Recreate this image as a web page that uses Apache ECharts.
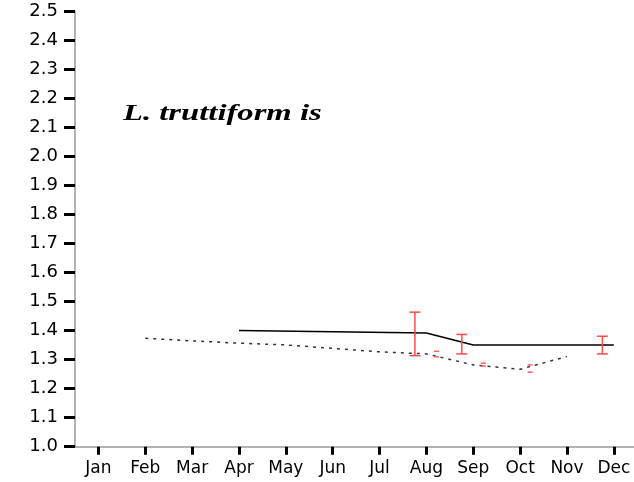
<!DOCTYPE html>
<html>
<head>
<meta charset="utf-8">
<script src="https://cdn.jsdelivr.net/npm/echarts@6/dist/echarts.min.js"></script>
<style>
html,body{margin:0;padding:0;background:#fff;}
#chart{width:634px;height:482px;}
</style>
</head>
<body>
<div id="chart"></div>
<script>
// ---- data ----
var monthLabels = ['Jan','Feb','Mar','Apr','May','Jun','Jul','Aug','Sep','Oct','Nov','Dec'];
var yTicks = [1.0,1.1,1.2,1.3,1.4,1.5,1.6,1.7,1.8,1.9,2.0,2.1,2.2,2.3,2.4,2.5];
var titleText = 'L. truttiform is';

// solid series (month index 1..12)
var solidMonths = [4, 8, 9, 12];
var solidValues = [1.401, 1.392, 1.351, 1.351];
var solidErrMonths = [8, 9, 12];
var solidErrLow = [1.314, 1.320, 1.320];
var solidErrHigh = [1.464, 1.387, 1.381];

// dotted series
var dottedMonths = [2, 3, 4, 5, 6, 7, 8, 9, 10, 11];
var dottedValues = [1.374, 1.365, 1.357, 1.351, 1.339, 1.327, 1.320, 1.282, 1.267, 1.311];
var dottedErrMonths = [8, 9, 10];
var dottedErrLow = [1.310, 1.278, 1.257];
var dottedErrHigh = [1.329, 1.288, 1.282];

// ---- build ----
function pairs(xs, ys){ return xs.map(function(x,i){ return [x, ys[i]]; }); }
function triples(xs, lo, hi){ return xs.map(function(x,i){ return [x, lo[i], hi[i]]; }); }

function errRender(offset, capHalf, color, showStem){
  return function(params, api){
    var x = api.value(0), lo = api.value(1), hi = api.value(2);
    var pLo = api.coord([x, lo]), pHi = api.coord([x, hi]);
    var cx = pLo[0] + offset;
    var style = {stroke: color, lineWidth: 1.5, fill: null};
    var children = [
      {type:'line', shape:{x1:cx-capHalf, y1:pHi[1], x2:cx+capHalf, y2:pHi[1]}, style: style},
      {type:'line', shape:{x1:cx-capHalf, y1:pLo[1], x2:cx+capHalf, y2:pLo[1]}, style: style}
    ];
    if (showStem) children.push({type:'line', shape:{x1:cx, y1:pHi[1], x2:cx, y2:pLo[1]}, style: style});
    return {type:'group', children: children};
  };
}

var chart = echarts.init(document.getElementById('chart'), null, {renderer:'canvas'});
var labelFont = 'DejaVu Sans';
chart.setOption({
  animation: false,
  backgroundColor: '#fff',
  grid: {left: 75, right: 0, top: 11.7, bottom: 35.3, containLabel: false},
  xAxis: {
    type: 'value', min: 0.5, max: 12.43,
    axisLine: {show: true, onZero: false, lineStyle: {color: '#9a9a9a', width: 1.5}},
    axisTick: {show: true, length: 8, customValues: monthLabels.map(function(_, i){ return i + 1; }),
      lineStyle: {color: '#000', width: 3}},
    axisLabel: {show: true, margin: 13, customValues: monthLabels.map(function(_, i){ return i + 1; }),
      formatter: function(v){ return monthLabels[Math.round(v) - 1] || ''; },
      color: '#000', fontFamily: labelFont, fontSize: 17},
    splitLine: {show: false}
  },
  yAxis: {
    type: 'value', min: yTicks[0], max: yTicks[yTicks.length - 1], interval: 0.1,
    axisLine: {show: true, lineStyle: {color: '#9a9a9a', width: 1.5}},
    axisTick: {show: true, length: 11, lineStyle: {color: '#000', width: 3}},
    axisLabel: {show: true, margin: 17, color: '#000', fontFamily: labelFont, fontSize: 18,
      formatter: function(v){ return v.toFixed(1); }},
    splitLine: {show: false}
  },
  graphic: [{
    type: 'text', x: 123, y: 114, scaleX: 1.42, scaleY: 1,
    style: {text: titleText, font: 'bold italic 23px "Liberation Serif"', fill: '#000',
      textAlign: 'left', textVerticalAlign: 'middle'}
  }],
  series: [
    {
      type: 'line', data: pairs(solidMonths, solidValues), showSymbol: false, symbol: 'none',
      lineStyle: {color: '#000', width: 1.5}, z: 3
    },
    {
      type: 'line', data: pairs(dottedMonths, dottedValues), showSymbol: false, symbol: 'none',
      lineStyle: {color: '#333', width: 1.5, type: [3, 5]}, z: 3
    },
    {
      type: 'custom', data: triples(solidErrMonths, solidErrLow, solidErrHigh),
      renderItem: errRender(-11.5, 5.5, '#ff4a4a', true), z: 4
    },
    {
      type: 'custom', data: triples(dottedErrMonths, dottedErrLow, dottedErrHigh),
      renderItem: errRender(10, 2.5, '#ff5a5a', false), z: 4
    }
  ]
});
</script>
</body>
</html>
